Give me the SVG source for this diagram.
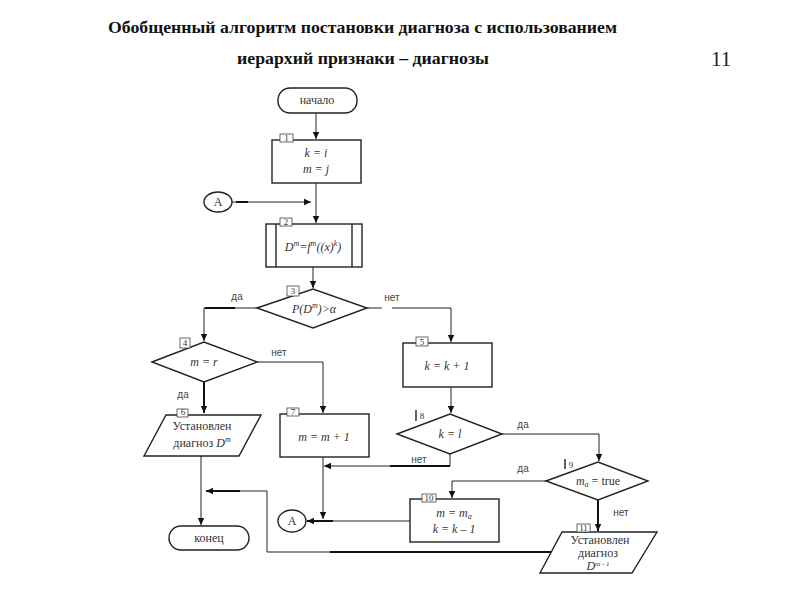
<svg xmlns="http://www.w3.org/2000/svg" width="800" height="600" viewBox="0 0 800 600">
<style>
.sh{fill:#fff;stroke:#222;stroke-width:1.4}
.in{fill:none;stroke:#222;stroke-width:1.4}
.tab{fill:#fff;stroke:#444;stroke-width:0.8}
.tn{font-family:"Liberation Serif",serif;font-size:9px;fill:#333;text-anchor:middle}
.m{font-family:"Liberation Serif",serif;font-style:italic;font-size:12px;fill:#333;text-anchor:middle}
.t{font-family:"Liberation Serif",serif;font-size:12px;fill:#333;text-anchor:middle}
.lb{font-family:"Liberation Sans",sans-serif;font-size:10px;fill:#444;text-anchor:middle}
.c{fill:none;stroke:#222;stroke-width:1}
.tk{fill:none;stroke:#111;stroke-width:2}
.ttl{font-family:"Liberation Serif",serif;font-weight:bold;font-size:16px;fill:#111}
</style>
<defs>
<marker id="ar" markerWidth="8" markerHeight="8" refX="7" refY="4" orient="auto" markerUnits="userSpaceOnUse">
<path d="M0,0.8 L7,4 L0,7.2 Z" fill="#111"/>
</marker>
</defs>
<rect width="800" height="600" fill="#fff"/>
<g id="title">
<text class="ttl" x="108" y="33" textLength="509" lengthAdjust="spacingAndGlyphs">Обобщенный алгоритм постановки диагноза с использованием</text>
<text class="ttl" x="237" y="64" textLength="252" lengthAdjust="spacingAndGlyphs">иерархий признаки – диагнозы</text>
<text x="711" y="66" font-family="Liberation Serif,serif" font-size="21" fill="#222">11</text>
</g>
<g id="connectors">
<path class="c" d="M316,113 V139" marker-end="url(#ar)"/>
<path class="c" d="M316,183 V223" marker-end="url(#ar)"/>
<path class="c" d="M232,202 H311" marker-end="url(#ar)"/>
<path class="tk" d="M236,202 H248"/>
<path class="c" d="M313,267 V288" marker-end="url(#ar)"/>
<path class="c" d="M257,308 H204 V341" marker-end="url(#ar)"/>
<path class="tk" d="M205,308 H235"/>
<path class="c" d="M367,308 H382 M392,308 H451 V342" marker-end="url(#ar)"/>
<path class="c" d="M257,362 H323 V413" marker-end="url(#ar)"/>
<path class="tk" d="M204,382 V413" marker-end="url(#ar)"/>
<path class="c" d="M451,387 V413" marker-end="url(#ar)"/>
<path class="c" d="M502,434 H599 V461" marker-end="url(#ar)"/>
<path class="c" d="M450,454 V466 H324" marker-end="url(#ar)"/>
<path class="tk" d="M390,466 H450"/>
<path class="c" d="M323,457 V519" marker-end="url(#ar)"/>
<path class="c" d="M201,456 V525" marker-end="url(#ar)"/>
<path class="c" d="M553,552 H267 V491 H206" marker-end="url(#ar)"/>
<path class="tk" d="M330,552 H553"/>
<path class="tk" d="M206,491 H240"/>
<path class="c" d="M546,481 H452 V498" marker-end="url(#ar)"/>
<path class="tk" d="M598,500 V531" marker-end="url(#ar)"/>
<path class="c" d="M410,521 H307" marker-end="url(#ar)"/>
<path class="tk" d="M307,521 H333"/>
<text class="lb" x="237" y="300">да</text>
<text class="lb" x="392" y="301">нет</text>
<text class="lb" x="279" y="356">нет</text>
<text class="lb" x="183" y="398">да</text>
<text class="lb" x="523" y="428">да</text>
<text class="lb" x="419" y="463">нет</text>
<text class="lb" x="523" y="472">да</text>
<text class="lb" x="621" y="516">нет</text>
</g>
<g id="start">
<rect class="sh" x="278" y="88" width="79" height="25" rx="12"/>
<text class="t" x="317" y="104" font-size="11">начало</text>
</g>
<g id="n1">
<rect class="sh" x="272" y="140" width="89" height="43"/>
<rect class="tab" x="280" y="134" width="13" height="8"/>
<text class="tn" x="286.5" y="141">1</text>
<text class="m" x="316" y="157">k = i</text>
<text class="m" x="316" y="173">m = j</text>
</g>
<g id="connA1">
<ellipse class="sh" cx="218" cy="202" rx="14" ry="10"/>
<text class="t" x="218" y="206">A</text>
</g>
<g id="n2">
<rect class="sh" x="266" y="224" width="96" height="43"/>
<path class="in" d="M276,224 V267 M352,224 V267"/>
<rect class="tab" x="280" y="218" width="12" height="8"/>
<text class="tn" x="286" y="225">2</text>
<text class="m" x="313" y="251">D<tspan dy="-5" font-size="8">m</tspan><tspan dy="5">=f</tspan><tspan dy="-5" font-size="8">m</tspan><tspan dy="5">((x)</tspan><tspan dy="-5" font-size="8">k</tspan><tspan dy="5">)</tspan></text>
</g>
<g id="n3">
<polygon class="sh" points="257,308 313,289 367,308 313,328"/>
<rect class="tab" x="287" y="286" width="12" height="10"/>
<text class="tn" x="293" y="294">3</text>
<text class="m" x="314" y="313">P(D<tspan dy="-5" font-size="8">m</tspan><tspan dy="5">)&gt;α</tspan></text>
</g>
<g id="n4">
<polygon class="sh" points="152,362 204,342 257,362 204,382"/>
<rect class="tab" x="180" y="338" width="10" height="10"/>
<text class="tn" x="185" y="346">4</text>
<text class="m" x="204" y="366">m = r</text>
</g>
<g id="n5">
<rect class="sh" x="403" y="343" width="89" height="44"/>
<rect class="tab" x="416" y="337" width="12" height="9"/>
<text class="tn" x="422" y="345">5</text>
<text class="m" x="447" y="370">k = k + 1</text>
</g>
<g id="n6">
<polygon class="sh" points="166,415 261,415 239,456 144,456"/>
<rect class="tab" x="177" y="409" width="11" height="8" stroke="none"/>
<text class="tn" x="183" y="415">6</text>
<text class="t" x="202" y="430" font-size="13">Установлен</text>
<text class="t" x="202" y="447" font-size="13">диагноз <tspan font-style="italic">D</tspan><tspan dy="-5" font-size="8" font-style="italic">m</tspan></text>
</g>
<g id="n7">
<rect class="sh" x="280" y="414" width="89" height="43"/>
<rect class="tab" x="287" y="408" width="12" height="8" stroke="none"/>
<text class="tn" x="293" y="415">7</text>
<text class="m" x="324" y="441">m = m + 1</text>
</g>
<g id="n8">
<polygon class="sh" points="397,434 450,414 502,434 450,454"/>
<path class="in" d="M416,410 V421" stroke-width="0.8"/>
<text class="tn" x="422" y="419">8</text>
<text class="m" x="450" y="438">k = l</text>
</g>
<g id="n9">
<polygon class="sh" points="546,481 598,462 648,481 598,500"/>
<path class="in" d="M565,459 V469" stroke-width="0.8"/>
<text class="tn" x="571" y="468">9</text>
<text class="t" x="598" y="485"><tspan font-style="italic">m</tspan><tspan font-style="italic" font-size="8" dy="2">a</tspan><tspan dy="-2"> = true</tspan></text>
</g>
<g id="n10">
<rect class="sh" x="410" y="499" width="89" height="43"/>
<rect class="tab" x="422" y="494" width="14" height="8"/>
<text class="tn" x="429" y="501">10</text>
<text class="m" x="454" y="517">m = m<tspan font-size="8" dy="2">a</tspan></text>
<text class="m" x="454" y="533">k = k – 1</text>
</g>
<g id="connA2">
<ellipse class="sh" cx="292" cy="521" rx="14" ry="11"/>
<text class="t" x="292" y="525">A</text>
</g>
<g id="end">
<rect class="sh" x="169" y="526" width="80" height="24" rx="12"/>
<text class="t" x="209" y="542" font-size="11">конец</text>
</g>
<g id="n11">
<polygon class="sh" points="562,532 657,532 632,573 540,573"/>
<rect class="tab" x="577" y="524" width="13" height="8"/>
<text class="tn" x="583.5" y="531">11</text>
<text class="t" x="600" y="544" font-size="10">Установлен</text>
<text class="t" x="598" y="557" font-size="10">диагноз</text>
<text class="m" x="598" y="570" font-size="10">D<tspan dy="-4" font-size="7">m - 1</tspan></text>
</g>
</svg>
